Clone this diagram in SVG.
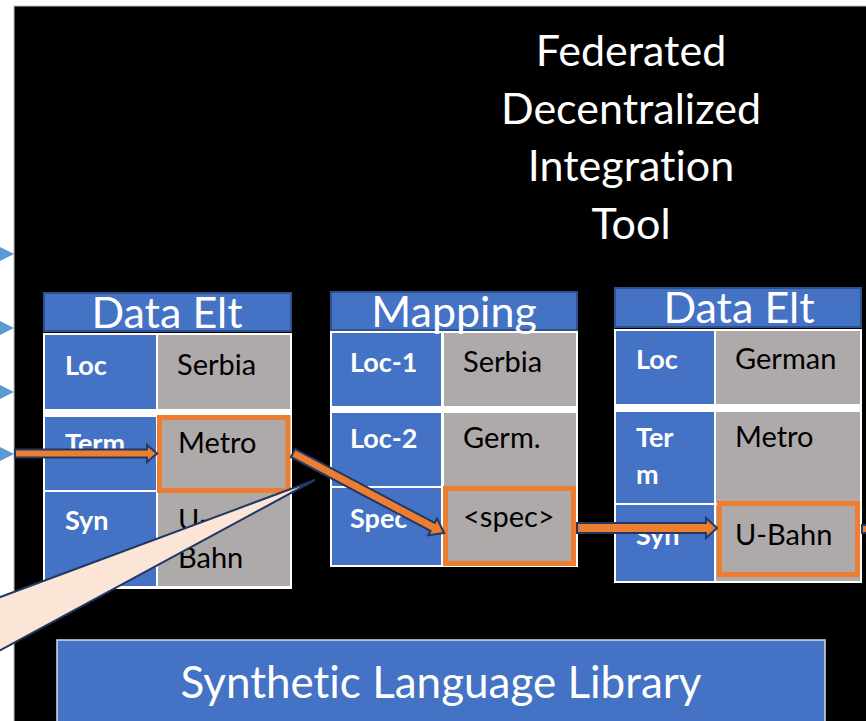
<svg xmlns="http://www.w3.org/2000/svg" width="866" height="721" viewBox="0 0 866 721">
<style>
.t{font-family:Lato,"Open Sans","Liberation Sans",sans-serif;font-variant-ligatures:none;}
.hd{fill:#4472C4;stroke:#2F528F;stroke-width:2;}
.hdt{fill:#fff;font-size:43px;text-anchor:middle;}
.bg{fill:#fff;}
.kc{fill:#4472C4;}
.vc{fill:#AEAAAA;}
.k{fill:#fff;font-size:27px;font-weight:bold;}
.v{fill:#000;font-size:29px;}
.ob{fill:none;stroke:#ED7D31;stroke-width:5;}
.ar{fill:#ED7D31;stroke:#203864;stroke-width:2;stroke-linejoin:miter;}
.tri{fill:#5B9BD5;}
</style>
<rect x="0" y="0" width="866" height="721" fill="#fff"/>
<rect x="14" y="6" width="860" height="720" fill="#000" stroke="#BFBFBF" stroke-width="1"/>
<g id="inputs">
<polygon class="tri" points="0,247 14,254 0,261"/>
<polygon class="tri" points="0,321 14,328 0,335"/>
<polygon class="tri" points="0,385 14,392 0,399"/>
<polygon class="tri" points="0,447 14,454 0,461"/>
</g>
<g id="title" class="t" fill="#fff" font-size="43" text-anchor="middle">
<text x="631" y="66">Federated</text>
<text x="631" y="124">Decentralized</text>
<text x="631" y="181">Integration</text>
<text x="631" y="239">Tool</text>
</g>
<g id="dataelt1" class="t">
<rect class="hd" x="44" y="293" width="247" height="38"/>
<text class="hdt" x="167" y="328">Data Elt</text>
<rect class="bg" x="43" y="333" width="249" height="256"/>
<rect class="kc" x="45" y="335" width="111" height="74"/>
<rect class="vc" x="158" y="335" width="132" height="74"/>
<rect class="kc" x="45" y="417" width="111" height="73"/>
<rect class="vc" x="158" y="417" width="132" height="73"/>
<rect class="kc" x="45" y="492" width="111" height="94"/>
<rect class="vc" x="158" y="492" width="132" height="94"/>
<text class="k" x="65" y="375">Loc</text>
<text class="v" x="177" y="375">Serbia</text>
<text class="k" x="65" y="453">Term</text>
<text class="v" x="178" y="453">Metro</text>
<text class="k" x="65" y="530">Syn</text>
<text class="v" x="178" y="530">U-</text>
<text class="v" x="178" y="568">Bahn</text>
<rect class="ob" x="159.5" y="417.5" width="128.5" height="73"/>
</g>
<g id="mapping" class="t">
<rect class="hd" x="331" y="292" width="246" height="38"/>
<rect class="bg" x="330" y="331" width="248" height="236"/>
<rect class="kc" x="332" y="333" width="109" height="73"/>
<rect class="vc" x="444" y="333" width="132" height="73"/>
<rect class="kc" x="332" y="413" width="109" height="73"/>
<rect class="vc" x="444" y="413" width="132" height="73"/>
<rect class="kc" x="332" y="488" width="109" height="77"/>
<rect class="vc" x="444" y="488" width="132" height="77"/>
<text class="hdt" x="454" y="327" font-size="45">Mapping</text>
<text class="k" x="350" y="372">Loc-1</text>
<text class="v" x="463" y="372">Serbia</text>
<text class="k" x="350" y="448">Loc-2</text>
<text class="v" x="463" y="448">Germ.</text>
<text class="k" x="350" y="528">Spec</text>
<text class="v" x="463" y="527">&lt;spec&gt;</text>
<rect class="ob" x="445.5" y="488.5" width="128" height="75"/>
</g>
<g id="dataelt2" class="t">
<rect class="hd" x="615" y="288" width="246" height="39"/>
<text class="hdt" x="739" y="323">Data Elt</text>
<rect class="bg" x="614" y="329" width="248" height="254"/>
<rect class="kc" x="616" y="331" width="98" height="73"/>
<rect class="vc" x="716" y="331" width="144" height="73"/>
<rect class="kc" x="616" y="412" width="98" height="91"/>
<rect class="vc" x="716" y="412" width="144" height="91"/>
<rect class="kc" x="616" y="505" width="98" height="76"/>
<rect class="vc" x="716" y="505" width="144" height="76"/>
<text class="k" x="636" y="369">Loc</text>
<text class="v" x="735" y="369">German</text>
<text class="k" x="636" y="447">Ter</text>
<text class="k" x="636" y="484">m</text>
<text class="v" x="735" y="447">Metro</text>
<text class="k" x="636" y="545">Syn</text>
<text class="v" x="735" y="545">U-Bahn</text>
<rect class="ob" x="719.5" y="503.5" width="138" height="71"/>
</g>
<g id="library" class="t">
<rect x="57" y="640" width="768" height="90" fill="#4472C4" stroke="#D6DCE5" stroke-width="1.5"/>
<text x="441" y="698" fill="#fff" font-size="44" text-anchor="middle">Synthetic Language Library</text>
</g>
<g id="connectors">
<polygon class="ar" points="15,449.5 147,449.5 147,445 157,453.5 147,462 147,457.5 15,457.5"/>
<g transform="translate(293,453) rotate(27.9)">
<polygon class="ar" points="0,-4.5 158,-4.5 158,-9.5 171,0 158,9.5 158,4.5 0,4.5"/>
</g>
<polygon class="ar" points="577,523 706,523 706,518 717,528 706,538 706,533 577,533"/>
<rect class="ar" x="862" y="525" width="8" height="8"/>
</g>
<g id="callout">
<polygon points="-5,599 315,480 -5,653" fill="#FBE5D6" stroke="#203864" stroke-width="2" stroke-linejoin="bevel"/>
</g>
</svg>
